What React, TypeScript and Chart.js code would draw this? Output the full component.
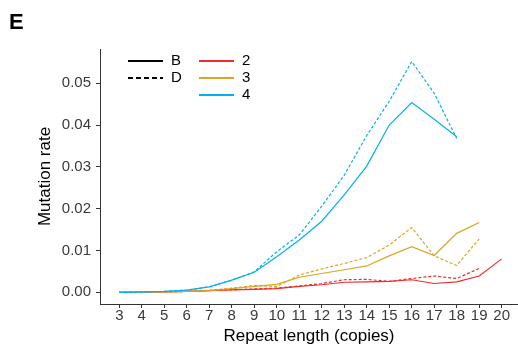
import React, { useEffect, useRef } from "react";
import { Chart, registerables } from "chart.js";

Chart.register(...registerables);

// Repeat length (copies) on the x axis
const copies = [3, 4, 5, 6, 7, 8, 9, 10, 11, 12, 13, 14, 15, 16, 17, 18, 19, 20];

// Mutation rate per repeat length, B (solid) and D (dashed), by unit size 2 / 3 / 4
const rateB2 = [0, 0, 0.0001, 0.0002, 0.0004, 0.0006, 0.0007, 0.0009, 0.0014, 0.0018, 0.0024, 0.0025, 0.0026, 0.003, 0.0021, 0.0025, 0.0039, 0.008];
const rateD2 = [0, 0, 0.0001, 0.0002, 0.0004, 0.0006, 0.0008, 0.001, 0.0015, 0.0021, 0.003, 0.0031, 0.0026, 0.0033, 0.0039, 0.0033, 0.0057, null];
const rateB3 = [0, 0, 0.0001, 0.0002, 0.0004, 0.0009, 0.0014, 0.0019, 0.0036, 0.0045, 0.0054, 0.0063, 0.0087, 0.0109, 0.0088, 0.0141, 0.0167, null];
const rateD3 = [0, 0, 0.0001, 0.0002, 0.0005, 0.001, 0.0016, 0.0014, 0.0041, 0.0056, 0.0069, 0.0083, 0.0113, 0.0155, 0.0087, 0.0064, 0.0128, null];
const rateB4 = [0, 0.0001, 0.0002, 0.0005, 0.0013, 0.0029, 0.0048, 0.0085, 0.0125, 0.017, 0.0233, 0.0302, 0.04, 0.0454, 0.0414, 0.0372, null, null];
const rateD4 = [0, 0.0001, 0.0002, 0.0005, 0.0013, 0.0029, 0.0049, 0.0097, 0.0137, 0.0206, 0.028, 0.0375, 0.0457, 0.0552, 0.0476, 0.0368, null, null];

const yTicks = [0, 0.01, 0.02, 0.03, 0.04, 0.05];

const groupLabels = ["B", "D"];
const unitLabels = ["2", "3", "4"];
const unitColors = ["#EE2C2C", "#DAA520", "#00B2EE"];

const FONT = "'Liberation Sans', Arial, sans-serif";
const DASH = [3, 2];

const toPoints = (vals: (number | null)[]) =>
  copies.map((c, i) => ({ x: c, y: vals[i] }));

// Panel letter and the two-part key drawn onto the canvas
const keyPlugin = {
  id: "panelKey",
  afterDraw(chart: Chart) {
    const ctx = chart.ctx;
    ctx.save();
    ctx.fillStyle = "#000";
    ctx.font = `bold 22px ${FONT}`;
    ctx.textBaseline = "alphabetic";
    ctx.textAlign = "left";
    ctx.fillText("E", 9, 29);

    ctx.font = `15px ${FONT}`;
    ctx.textBaseline = "middle";
    ctx.lineWidth = 2;

    const rows = [61, 78, 95];
    groupLabels.forEach((lab, i) => {
      ctx.strokeStyle = "#000";
      ctx.setLineDash(i === 1 ? [5, 3] : []);
      ctx.beginPath();
      ctx.moveTo(128, rows[i]);
      ctx.lineTo(163, rows[i]);
      ctx.stroke();
      ctx.fillStyle = "#000";
      ctx.fillText(lab, 171, rows[i]);
    });
    ctx.setLineDash([]);
    unitLabels.forEach((lab, i) => {
      ctx.strokeStyle = unitColors[i];
      ctx.beginPath();
      ctx.moveTo(199, rows[i]);
      ctx.lineTo(234, rows[i]);
      ctx.stroke();
      ctx.fillStyle = "#000";
      ctx.fillText(lab, 242, rows[i]);
    });
    ctx.restore();
  },
};

export default function App() {
  const ref = useRef<HTMLCanvasElement>(null);

  useEffect(() => {
    if (!ref.current) return;
    const line = (vals: (number | null)[], color: string, dashed: boolean, order: number) => ({
      data: toPoints(vals),
      borderColor: color,
      backgroundColor: color,
      borderWidth: 1.2,
      borderDash: dashed ? DASH : [],
      pointRadius: 0,
      pointHoverRadius: 0,
      tension: 0,
      fill: false,
      spanGaps: false,
      order,
    });

    const chart = new Chart(ref.current, {
      type: "line",
      data: {
        datasets: [
          line(rateB4, unitColors[2], false, 1),
          line(rateD4, unitColors[2], true, 2),
          line(rateB3, unitColors[1], false, 4),
          line(rateD3, unitColors[1], true, 3),
          line(rateB2, unitColors[0], false, 5),
          line(rateD2, unitColors[0], true, 6),
        ],
      },
      options: {
        animation: false,
        responsive: false,
        devicePixelRatio: 1,
        layout: { padding: { top: 49, left: 0, right: 0, bottom: 0 } },
        plugins: {
          legend: { display: false },
          tooltip: { enabled: false },
        },
        scales: {
          x: {
            type: "linear",
            min: 2.142,
            max: 20.725,
            afterBuildTicks: (s: any) => {
              s.ticks = copies.map((v) => ({ value: v }));
            },
            afterFit: (s: any) => {
              s.height = 45;
              s.paddingLeft = 0;
              s.paddingRight = 0;
            },
            grid: {
              display: true,
              drawOnChartArea: false,
              drawTicks: true,
              tickLength: 4,
              color: "#333",
              lineWidth: 1,
            },
            border: { display: true, color: "#333", width: 1 },
            ticks: {
              autoSkip: false,
              maxRotation: 0,
              padding: -1,
              color: "#3a3a3a",
              font: { family: FONT, size: 15 },
              callback: (v: any) => String(v),
            },
            title: {
              display: true,
              text: "Repeat length (copies)",
              color: "#000",
              font: { family: FONT, size: 17 },
              padding: { top: 0, bottom: 2 },
            },
          },
          y: {
            type: "linear",
            min: -0.0028,
            max: 0.0582,
            afterBuildTicks: (s: any) => {
              s.ticks = yTicks.map((v) => ({ value: v }));
            },
            afterFit: (s: any) => {
              s.width = 100;
              s.paddingTop = 0;
              s.paddingBottom = 0;
            },
            grid: {
              display: true,
              drawOnChartArea: false,
              drawTicks: true,
              tickLength: 4,
              color: "#333",
              lineWidth: 1,
            },
            border: { display: true, color: "#333", width: 1 },
            ticks: {
              padding: 5,
              color: "#3a3a3a",
              font: { family: FONT, size: 15 },
              callback: (v: any) => Number(v).toFixed(2),
            },
            title: {
              display: true,
              text: "Mutation rate",
              color: "#000",
              font: { family: FONT, size: 17 },
              padding: { top: 35, bottom: 0 },
            },
          },
        },
      },
      plugins: [keyPlugin],
    });
    return () => chart.destroy();
  }, []);

  return (
    <div style={{ position: "fixed", left: 0, top: 0, width: 518, height: 349, background: "#fff" }}>
      <canvas ref={ref} width={518} height={349} />
    </div>
  );
}
